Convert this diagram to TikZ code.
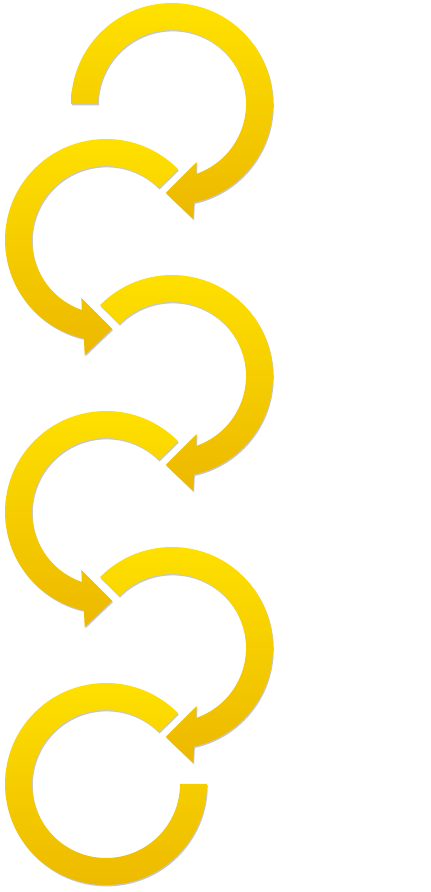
\documentclass[tikz,border=0pt]{standalone}
\usetikzlibrary{shadows}
\definecolor{ytop}{RGB}{255,226,0}
\definecolor{ymid}{RGB}{255,201,0}
\definecolor{ybot}{RGB}{236,184,0}
\tikzset{
  band/.style={top color=ytop, middle color=ymid, bottom color=ybot,
    drop shadow={shadow xshift=0.8pt, shadow yshift=-1.4pt, opacity=0.22, fill=black}}
}
\newcommand\myarrowarc[4]{%
  \begin{scope}[shift={(#1,#2)}, xscale=#4]
    \path[band] (#3:101) arc[start angle=#3, end angle=-77.4, radius=101]
      -- (-79.5:117) -- (-94:89) -- (-67:63) -- (-70.9:74)
      arc[start angle=-70.9, end angle=#3, radius=74] -- cycle;
  \end{scope}}
\begin{document}
\begin{tikzpicture}[x=1pt,y=1pt]
  \useasboundingbox (0,0) rectangle (431,892);
  \myarrowarc{172}{788}{180}{1}
  \myarrowarc{106}{652}{135.5}{-1}
  \myarrowarc{172}{516}{135.5}{1}
  \myarrowarc{106}{380}{135.5}{-1}
  \myarrowarc{172}{244}{135.5}{1}
  \begin{scope}[shift={(106,108)}]
    \path[band] (44.5:101) arc[start angle=44.5, end angle=360, radius=101]
      -- (360:74) arc[start angle=360, end angle=44.5, radius=74] -- cycle;
  \end{scope}
\end{tikzpicture}
\end{document}
